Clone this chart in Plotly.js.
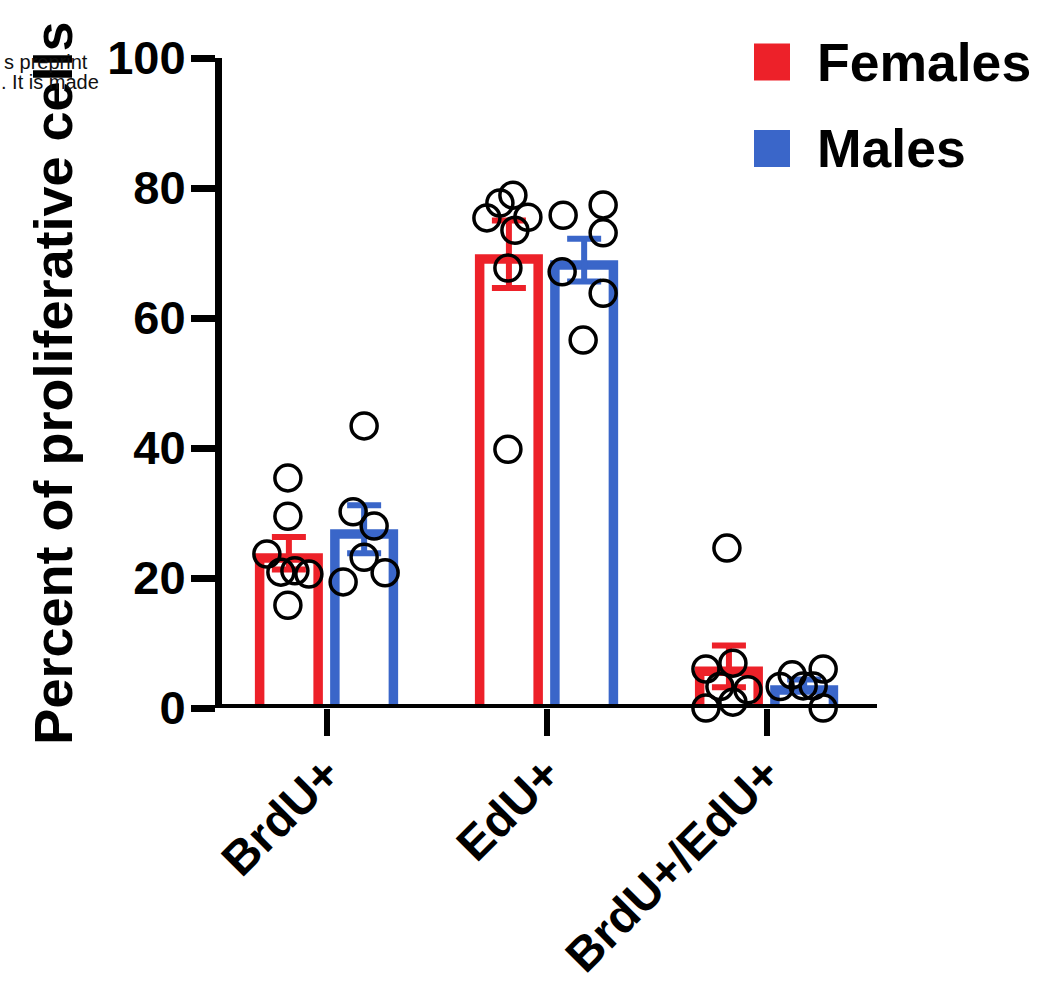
<!DOCTYPE html>
<html><head><meta charset="utf-8">
<script src="https://cdn.plot.ly/plotly-3.0.1.min.js"></script>
<style>html,body{margin:0;padding:0;background:#fff}#chart{width:1041px;height:982px}</style>
</head><body><div id="chart"></div>
<script>
// ---------------- data ----------------
const categories = ['BrdU+', 'EdU+', 'BrdU+/EdU+'];
const seriesNames = ['Females', 'Males'];
const yTickVals = [0, 20, 40, 60, 80, 100];
const femaleMean = [23.8, 69.8, 6.4];
const femaleSem = [2.5, 5.2, 3.2];
const maleMean = [27.5, 68.9, 3.5];
const maleSem = [3.7, 3.3, 0.9];
const femalePoints = [
  [35.4, 29.5, 23.7, 20.9, 21.1, 20.6, 15.8],
  [78.9, 77.7, 75.4, 75.5, 73.5, 67.7, 39.8],
  [24.6, 6.0, 6.9, 3.3, 2.8, 0.9, 0.0]
];
const malePoints = [
  [43.4, 30.2, 28.0, 23.2, 20.8, 19.4],
  [75.8, 77.4, 73.1, 67.1, 63.8, 56.6],
  [6.0, 5.1, 3.3, 3.4, 3.4, 0.0]
];
// horizontal swarm spread of the points (px from bar centre)
const femaleSwarm = [
  [-1, -1, -22, -8, 6, 20, -1],
  [4, -9, -22, 19, 6, -1, -1],
  [-2, -23, 4, -9, 19, 4, -23]
];
const maleSwarm = [
  [0, -11, 10, 0, 21, -21],
  [-21, 19, 19, -22, 19, -1],
  [19, -12, -24, -1, 9, 19]
];

// ---------------- style / layout ----------------
const W = 1041, H = 982;
const M = {l: 222, r: 164, t: 58, b: 274};
const plotW = W - M.l - M.r, plotH = H - M.t - M.b;
const xRange = [-0.475, 2.502], yRange = [0, 100];
const xPx = plotW / (xRange[1] - xRange[0]);
const yPx = plotH / (yRange[1] - yRange[0]);
const RED = '#ED2129', BLUE = '#3A66C9';
const FONT = 'Liberation Sans, Arial, Helvetica, sans-serif';
const GROUP_OFF = 0.171;      // category units
const BAR_W = 68 / xPx;       // outer bar width
const STROKE = 9.5;           // px, inner stroke of hollow bars
const px2x = p => (p - M.l) / plotW;
const px2y = p => 1 - (p - M.t) / plotH;

const idx = categories.map((c, i) => i);
const groups = [
  {name: seriesNames[0], mean: femaleMean, sem: femaleSem, pts: femalePoints, swarm: femaleSwarm, color: RED, side: -1},
  {name: seriesNames[1], mean: maleMean, sem: maleSem, pts: malePoints, swarm: maleSwarm, color: BLUE, side: 1}
];

const traces = [];
groups.forEach(g => {
  traces.push({type: 'bar', name: g.name, x: idx, y: g.mean, width: BAR_W,
    offset: g.side * GROUP_OFF - BAR_W / 2, marker: {color: g.color, line: {width: 0}},
    showlegend: false, hoverinfo: 'y'});
});
groups.forEach(g => {
  const innerW = BAR_W - 2 * STROKE / xPx;
  traces.push({type: 'bar', x: idx, y: g.mean.map(v => Math.max(0, v - STROKE / yPx)), width: innerW,
    offset: g.side * GROUP_OFF - innerW / 2, marker: {color: '#ffffff', line: {width: 0}},
    showlegend: false, hoverinfo: 'skip'});
});
groups.forEach(g => {
  traces.push({type: 'scatter', mode: 'markers', x: idx.map(i => i + g.side * GROUP_OFF), y: g.mean,
    marker: {size: 1, color: 'rgba(0,0,0,0)'},
    error_y: {type: 'data', array: g.sem, visible: true, color: g.color, thickness: 6, width: 17},
    showlegend: false, hoverinfo: 'skip', cliponaxis: false});
});
groups.forEach(g => {
  const xs = [], ys = [];
  g.pts.forEach((arr, i) => arr.forEach((v, j) => {
    xs.push(i + g.side * GROUP_OFF + g.swarm[i][j] / xPx); ys.push(v);
  }));
  traces.push({type: 'scatter', mode: 'markers', x: xs, y: ys,
    marker: {symbol: 'circle', size: 26, color: 'rgba(0,0,0,0)', line: {color: '#000', width: 3.5}},
    showlegend: false, hoverinfo: 'y', cliponaxis: false});
});

const shapes = [
  {type: 'line', xref: 'paper', yref: 'y', x0: px2x(215), x1: 1, y0: 0, y1: 0,
   line: {color: '#000', width: 8}, layer: 'above'}
];
const annotations = [];
const legendRows = [62, 148.5];
groups.forEach((g, k) => {
  const cy = legendRows[k];
  shapes.push({type: 'rect', xref: 'paper', yref: 'paper', x0: px2x(754), x1: px2x(790),
    y0: px2y(cy - 18.5), y1: px2y(cy + 18.5), fillcolor: g.color, line: {width: 0}});
  annotations.push({xref: 'paper', yref: 'paper', x: px2x(815), y: px2y(cy), xanchor: 'left', yanchor: 'middle',
    text: g.name, showarrow: false, font: {family: FONT, size: 53.5, weight: 700, color: '#000'}});
});
annotations.push({xref: 'paper', yref: 'paper', x: px2x(90), y: px2y(62), xanchor: 'right', yanchor: 'middle',
  text: 's preprint', showarrow: false, font: {family: FONT, size: 20, color: '#111'}});
annotations.push({xref: 'paper', yref: 'paper', x: px2x(101), y: px2y(81.5), xanchor: 'right', yanchor: 'middle',
  text: '. It is made', showarrow: false, font: {family: FONT, size: 20, color: '#111'}});

const layout = {
  width: W, height: H, margin: M, paper_bgcolor: '#fff', plot_bgcolor: '#fff',
  barmode: 'overlay', showlegend: false, font: {family: FONT, color: '#000'},
  xaxis: {range: xRange, tickmode: 'array', tickvals: idx, ticktext: categories, tickangle: -45,
    ticks: 'outside', ticklen: 27, tickwidth: 6, tickcolor: '#000', showline: false, showgrid: false,
    zeroline: false, fixedrange: true, ticklabelstandoff: -9,
    tickfont: {family: FONT, size: 47.5, weight: 700, color: '#000'}},
  yaxis: {range: yRange, tickmode: 'array', tickvals: yTickVals, ticks: 'outside', ticklen: 24, tickwidth: 7,
    tickcolor: '#000', showline: true, linewidth: 7, linecolor: '#000', showgrid: false, zeroline: false,
    fixedrange: true, ticklabelstandoff: -4, tickfont: {family: FONT, size: 47, weight: 700, color: '#000'},
    title: {text: 'Percent of proliferative cells', standoff: 20, font: {family: FONT, size: 54, weight: 700, color: '#000'}}},
  shapes: shapes, annotations: annotations
};
Plotly.newPlot('chart', traces, layout, {displayModeBar: false, staticPlot: true});
</script>
</body></html>
